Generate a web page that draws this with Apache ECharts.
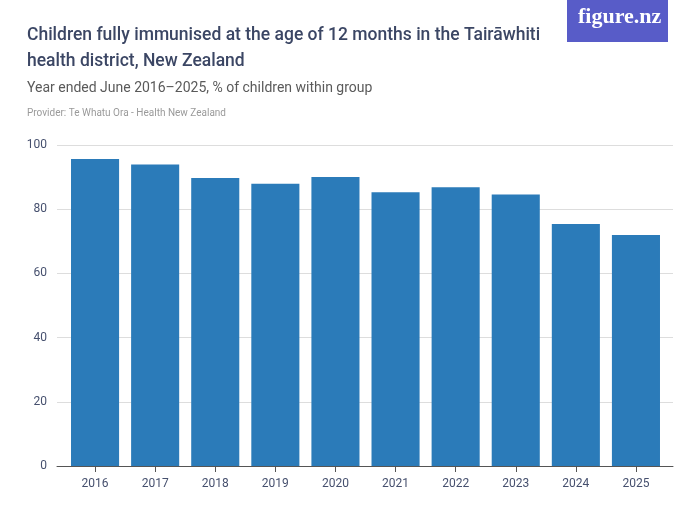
<!DOCTYPE html>
<html>
<head>
<meta charset="utf-8">
<script src="https://cdn.jsdelivr.net/npm/echarts@6/dist/echarts.min.js"></script>
<style>
  html, body { margin: 0; padding: 0; background: #fff; }
  #chart { width: 700px; height: 525px; }
</style>
</head>
<body>
<div id="chart"></div>
<script>
// years on the x axis
var years = ["2016", "2017", "2018", "2019", "2020", "2021", "2022", "2023", "2024", "2025"];
// % of children fully immunised at 12 months
var immunised = [95.6, 93.9, 89.7, 87.9, 90.0, 85.3, 86.8, 84.6, 75.4, 72.0];
var yTicks = [0, 20, 40, 60, 80, 100];

var chart = echarts.init(document.getElementById("chart"));
var fontFam = "Roboto, 'Noto Sans', sans-serif";
var yMin = yTicks[0], yMax = yTicks[yTicks.length - 1];

chart.setOption({
  animation: false,
  graphic: [
    {
      type: "text", left: 27, top: 23,
      style: {
        text: "Children fully immunised at the age of 12 months in the Tairāwhiti\nhealth district, New Zealand",
        font: "500 17.5px " + fontFam, fill: "#3b4664", lineHeight: 26
      }
    },
    {
      type: "text", left: 27, top: 81,
      style: { text: "Year ended June 2016–2025, % of children within group", font: "14px " + fontFam, fill: "#5a5a5a" }
    },
    {
      type: "text", left: 27, top: 108,
      style: { text: "Provider: Te Whatu Ora - Health New Zealand", font: "10px " + fontFam, fill: "#9a9a9a" }
    },
    {
      type: "rect", shape: { x: 567, y: 0, width: 101, height: 42 },
      style: { fill: "#585cc8" }
    },
    {
      type: "text", left: 578, top: 6,
      style: { text: "figure.nz", font: "bold 22px 'Liberation Serif', serif", fill: "#ffffff" }
    }
  ],
  grid: [
    // frame grid: gridlines, y labels and the base line
    { left: 57, right: 27, top: 145, bottom: 59 },
    // bar grid: categories sit slightly inside the frame
    { left: 65, right: 34, top: 145, bottom: 59 }
  ],
  xAxis: [
    {
      gridIndex: 0, type: "value", min: 0, max: 1,
      axisLine: { show: true, onZero: false, lineStyle: { color: "#555", width: 1 } },
      axisTick: { show: false }, axisLabel: { show: false }, splitLine: { show: false }
    },
    {
      gridIndex: 1, type: "category", data: years,
      axisLine: { show: false },
      axisTick: { show: true, alignWithLabel: true, length: 6, lineStyle: { color: "#555" } },
      axisLabel: { color: "#46506e", fontSize: 12, fontFamily: fontFam, margin: 12 }
    }
  ],
  yAxis: [
    {
      gridIndex: 0, type: "value", min: yMin, max: yMax, interval: 20,
      axisLine: { show: false }, axisTick: { show: false },
      splitLine: { lineStyle: { color: "#dddddd" } },
      axisLabel: { color: "#46506e", fontSize: 12, fontFamily: fontFam, margin: 10 }
    },
    {
      gridIndex: 1, type: "value", min: yMin, max: yMax, interval: 20,
      axisLine: { show: false }, axisTick: { show: false },
      splitLine: { show: false }, axisLabel: { show: false }
    }
  ],
  series: [{
    type: "bar",
    xAxisIndex: 1,
    yAxisIndex: 1,
    data: immunised,
    barCategoryGap: "20%",
    itemStyle: { color: "#2b7bb9" }
  }]
});
</script>
</body>
</html>
